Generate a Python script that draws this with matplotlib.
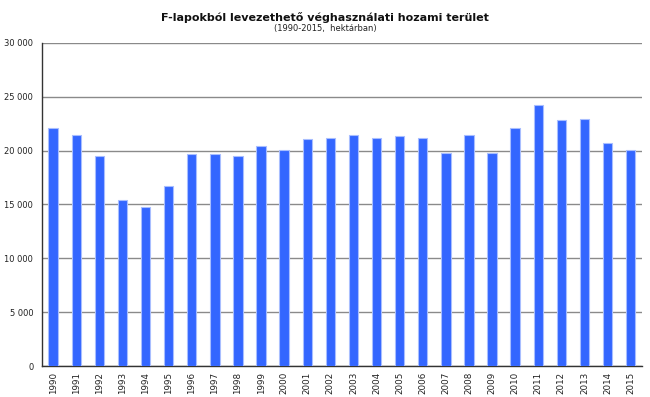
import matplotlib
matplotlib.use("Agg")
import matplotlib.pyplot as plt
from matplotlib.ticker import FuncFormatter, MultipleLocator

years = [str(y) for y in range(1990, 2016)]
values = [22070, 21450, 19475, 15400, 14785, 16730, 19660, 19660, 19475, 20460,
          20090, 21080, 21140, 21450, 21200, 21330, 21200, 19780, 21450, 19780,
          22070, 24200, 22840, 22900, 20710, 20090]

fig = plt.figure(figsize=(6.5, 3.97), dpi=100)
ax = fig.add_axes([0.064, 0.078, 0.924, 0.814])

x = list(range(len(years)))
ax.bar(x, values, width=0.41, color="#3366FF", edgecolor="#A8BEFF", linewidth=0.8, zorder=3)

ax.set_xlim(-0.5, len(years) - 0.5)
ax.set_ylim(0, 30000)
ax.yaxis.set_major_locator(MultipleLocator(5000))
ax.yaxis.set_major_formatter(FuncFormatter(lambda v, p: f"{int(v):,}".replace(",", " ")))
ax.grid(axis="y", color="#8a8a8a", linewidth=1.0, zorder=0)
ax.set_xticks(x)
ax.set_xticklabels(years, rotation=90, fontsize=6.3, color="#222222")
ax.tick_params(axis="y", labelsize=6.0, colors="#222222", length=0, pad=6)
ax.tick_params(axis="x", length=0, pad=4)

for s in ["top", "right"]:
    ax.spines[s].set_visible(False)
ax.spines["left"].set_color("#333333")
ax.spines["bottom"].set_color("#333333")
ax.spines["left"].set_linewidth(1.0)
ax.spines["bottom"].set_linewidth(1.0)

fig.text(0.5, 0.957, "F-lapokból levezethető véghasználati hozami terület",
         ha="center", va="center", fontsize=8, fontweight="bold", color="#111111")
fig.text(0.5, 0.927, "(1990-2015,  hektárban)", ha="center", va="center",
         fontsize=6, color="#222222")

fig.savefig("out.png", dpi=100)
